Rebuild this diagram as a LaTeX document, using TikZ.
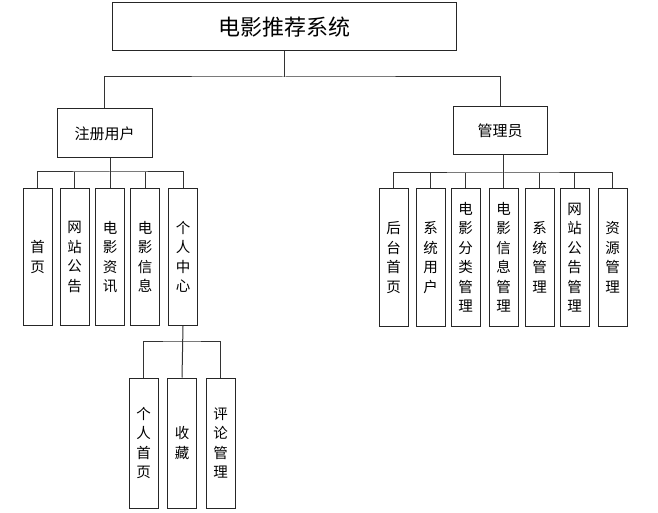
\documentclass[tikz,border=0pt]{standalone}
\usepackage{fontspec}
\usepackage{tikz}
\newfontfamily\cjk{Noto Sans CJK SC}

\tikzset{
  caja/.style={draw=black!85, line width=1pt, fill=white, inner sep=0pt, align=center},
  cajav/.style={caja, minimum width=29pt, minimum height=137pt,
                font=\cjk\fontsize{14.5}{19.5}\selectfont},
  linea/.style={draw=black!80, line width=1pt}
}

\begin{document}
\begin{tikzpicture}[x=1pt, y=-1pt]
\useasboundingbox (0,0) rectangle (658,513);

% Nodos principales
\node[caja, minimum width=344pt, minimum height=48pt,
      font=\cjk\fontsize{22}{26}\selectfont] (raiz) at (284,27) {电影推荐系统};
\node[caja, minimum width=95pt, minimum height=49pt,
      font=\cjk\fontsize{15}{18}\selectfont] (usuario) at (104.5,133.5) {注册用户};
\node[caja, minimum width=94pt, minimum height=48pt,
      font=\cjk\fontsize{15}{18}\selectfont] (admin) at (500,131) {管理员};

% Hijos de usuario
\foreach \n/\x/\t in {u1/37.5/首\\页, u2/74.5/网\\站\\公\\告, u3/110/电\\影\\资\\讯,
                      u4/145/电\\影\\信\\息, u5/183/个\\人\\中\\心} {
  \node[cajav] (\n) at (\x,257) {\t};
}

% Hijos de admin
\foreach \n/\x/\t in {a1/393.5/后\\台\\首\\页, a2/430.5/系\\统\\用\\户,
                      a3/465.5/电\\影\\分\\类\\管\\理, a4/503.5/电\\影\\信\\息\\管\\理,
                      a5/539.5/系\\统\\管\\理, a6/574.5/网\\站\\公\\告\\管\\理,
                      a7/612.5/资\\源\\管\\理} {
  \node[cajav] (\n) at (\x,257.5) {\t};
}

% Hijos de centro personal
\foreach \n/\x/\t in {p1/143.5/个\\人\\首\\页, p2/182/收\\藏, p3/220.5/评\\论\\管\\理} {
  \node[cajav, minimum height=130pt] (\n) at (\x,443) {\t};
}

% Buses
\coordinate (busR) at (284,77);
\coordinate (busU) at (110,172);
\coordinate (busA) at (503.5,173);
\coordinate (busP) at (182,341);

% Conexiones raiz
\draw[linea] (raiz.south) -- (busR);
\draw[linea] (usuario.north) |- (busR) -| (admin.north);

% Conexiones usuario
\draw[linea] (u3.north |- usuario.south) -- (u3.north);
\draw[linea] (u1.north) |- (busU) -| (u5.north);
\foreach \n in {u2,u4} {
  \draw[linea] (busU -| \n.north) -- (\n.north);
}

% Conexiones admin
\draw[linea] (a4.north |- admin.south) -- (a4.north);
\draw[linea] (a1.north) |- (busA) -| (a7.north);
\foreach \n in {a2,a3,a5,a6} {
  \draw[linea] (busA -| \n.north) -- (\n.north);
}

% Conexiones centro personal
\draw[linea] (u5.south) -- (p2.north);
\draw[linea] (p1.north) |- (busP) -| (p3.north);

\end{tikzpicture}
\end{document}
